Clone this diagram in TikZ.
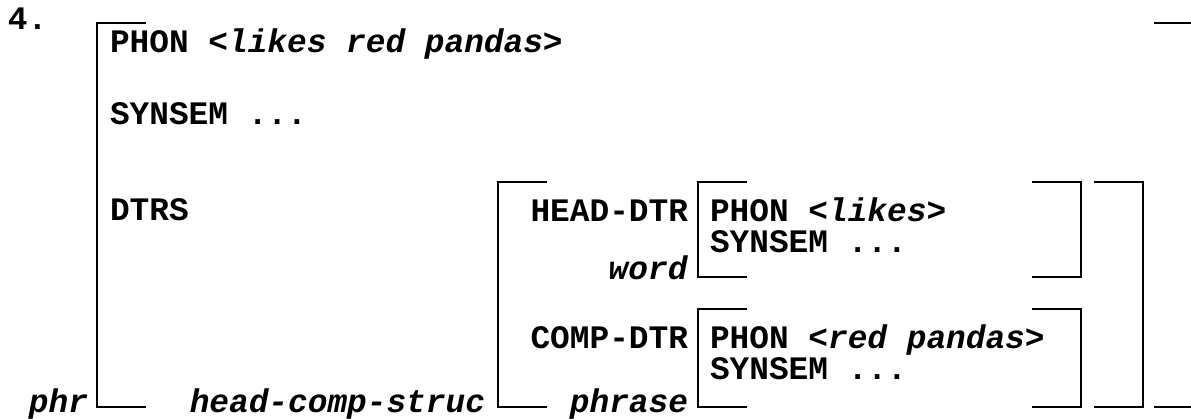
\documentclass[tikz,border=0pt]{standalone}
\usepackage{fontspec}
\setmonofont{Liberation Mono}
\begin{document}
\begin{tikzpicture}[x=1pt,y=-1pt,
  avm/.style={inner sep=0pt,outer sep=0pt,font=\fontsize{32.8}{36}\selectfont\ttfamily\bfseries},
  lbl/.style={avm,anchor=base west},
  rlbl/.style={avm,anchor=base east},
  brk/.style={line width=2.6pt,line cap=butt,line join=miter}]
\useasboundingbox (0,0) rectangle (1191,419);
% hook length of every bracket
\def\hk{49}
% left bracket: \lbrk{x}{top}{bottom}
\newcommand\lbrk[3]{\draw[brk] (#1+\hk,#2) -- (#1,#2) -- (#1,#3) -- (#1+\hk,#3);}
% right bracket
\newcommand\rbrk[3]{\draw[brk] (#1-\hk,#2) -- (#1,#2) -- (#1,#3) -- (#1-\hk,#3);}

\node[lbl] (num) at (8,30) {4.};

% outer structure
\lbrk{97}{23}{407}
\draw[brk] (1154,23) -- (1191,23);
\draw[brk] (1154,407) -- (1191,407);
\node[lbl] (phon) at (110,53) {PHON \textit{<likes red pandas>}};
\node[lbl] (synsem) at (110,125) {SYNSEM ...};
\node[lbl] (dtrs) at (110,221) {DTRS};
\node[rlbl] (phr) at (88,412) {\textit{phr}};

% daughters structure
\lbrk{498}{182}{407}
\rbrk{1143}{182}{407}
\node[rlbl] (hcs) at (485,412) {\textit{head-comp-struc}};

% head daughter
\node[rlbl] (hd) at (688,222) {HEAD-DTR};
\node[rlbl] (word) at (688,280) {\textit{word}};
\lbrk{698}{182}{277}
\rbrk{1081}{182}{277}
\node[lbl] (hphon) at (710,222) {PHON \textit{<likes>}};
\node[lbl] (hsyn) at (710,253) {SYNSEM ...};

% complement daughter
\node[rlbl] (cd) at (688,349) {COMP-DTR};
\node[rlbl] (phrase) at (688,412) {\textit{phrase}};
\lbrk{698}{309}{407}
\rbrk{1081}{309}{407}
\node[lbl] (cphon) at (710,349) {PHON \textit{<red pandas>}};
\node[lbl] (csyn) at (710,380) {SYNSEM ...};
\end{tikzpicture}
\end{document}
